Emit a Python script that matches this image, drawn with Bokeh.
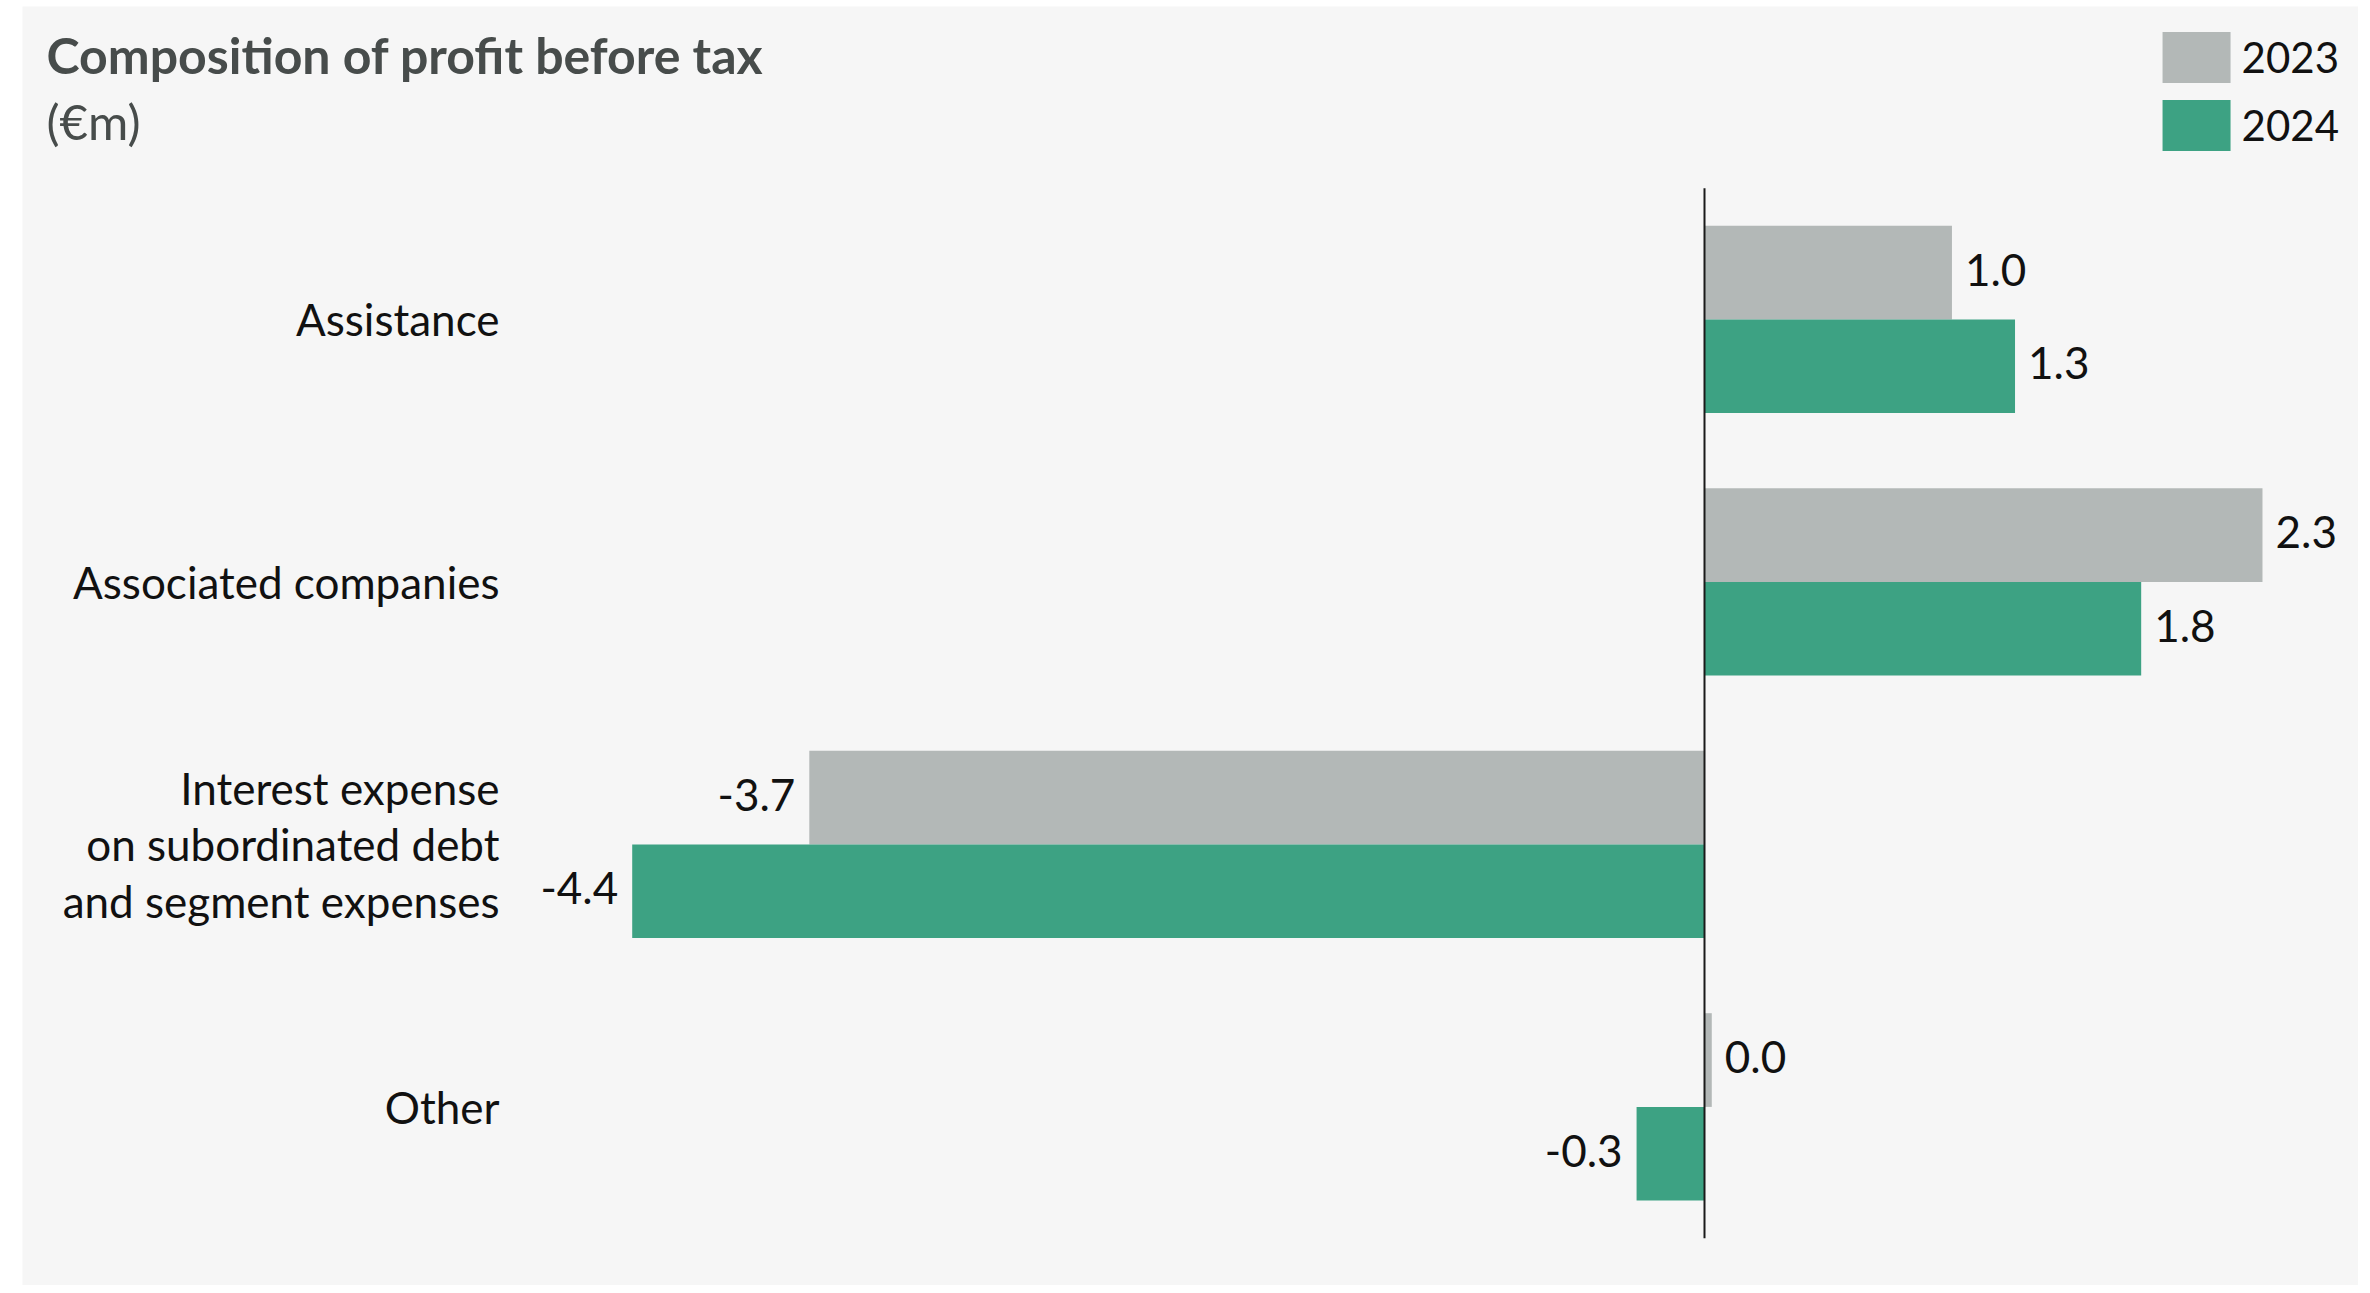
from bokeh.plotting import figure
from bokeh.models import ColumnDataSource, Range1d, Legend, LegendItem
from bokeh.transform import dodge
from bokeh.core.properties import value
from bokeh.embed import file_html
from bokeh.resources import INLINE

# ---------------- data ----------------
categories = ["Assistance", "Associated companies",
              "Interest expense\non subordinated debt\nand segment expenses", "Other"]
years = ["2023", "2024"]
values_2023 = [1.02, 2.30, -3.69, 0.03]
values_2024 = [1.28, 1.80, -4.42, -0.28]
colors = {"2023": "#b3b8b7", "2024": "#3da283"}
title_text = "Composition of profit before tax"
subtitle_text = "(€m)"

FONT = "Lato"

# ---------------- geometry ----------------
W, H = 2358, 1285
frame_left = 22
frame_top = 6
frame_w = W - frame_left
frame_h = H - frame_top
ppu_x = 242.6
zero_px = 1704
x_start = -(zero_px - frame_left) / ppu_x
x_end = x_start + frame_w / ppu_x

ppu_y = 262.5
first_center_px = 318.9
y_top = -(first_center_px - frame_top) / ppu_y
y_bottom = y_top + frame_h / ppu_y


def X(px):
    return x_start + (px - frame_left) / ppu_x


def Y(px):
    return y_top + (px - frame_top) / ppu_y


p = figure(width=W, height=H, output_backend="svg", toolbar_location=None,
           x_range=Range1d(x_start, x_end), y_range=Range1d(y_bottom, y_top),
           x_axis_location=None, y_axis_location=None)
p.min_border = 0
p.min_border_left = frame_left
p.min_border_top = frame_top
p.border_fill_color = "white"
p.background_fill_color = "#f6f6f6"
p.outline_line_color = None
p.xgrid.visible = False
p.ygrid.visible = False

idx = list(range(len(categories)))
src = ColumnDataSource(dict(y=idx, cat=categories, v23=values_2023, v24=values_2024))

bar_h = 0.357
off = bar_h / 2
r23 = p.hbar(y=dodge("y", -off), left=0, right="v23", height=bar_h, source=src,
             fill_color=colors["2023"], line_color=None)
r24 = p.hbar(y=dodge("y", off), left=0, right="v24", height=bar_h, source=src,
             fill_color=colors["2024"], line_color=None)

# zero line
p.segment(x0=0, x1=0, y0=-0.5, y1=len(categories) - 0.5, line_color="#1a1a1a", line_width=2)

# value labels
def label_sources():
    pos = dict(x=[], y=[], t=[])
    neg = dict(x=[], y=[], t=[])
    for vals, shift in ((values_2023, -off), (values_2024, off)):
        for i, v in enumerate(vals):
            d = pos if v >= 0 else neg
            d["x"].append(v)
            d["y"].append(i + shift)
            d["t"].append(f"{v:.1f}")
    return ColumnDataSource(pos), ColumnDataSource(neg)

pos_src, neg_src = label_sources()
common = dict(text_font=value(FONT), text_font_size="44px", text_color="#111111",
              text_baseline="middle", y_offset=-3)
p.text(x="x", y="y", text="t", source=pos_src, text_align="left", x_offset=13, **common)
p.text(x="x", y="y", text="t", source=neg_src, text_align="right", x_offset=-14, **common)

# category labels
cat_src = ColumnDataSource(dict(x=[X(499)] * len(categories), y=idx, t=categories))
p.text(x="x", y="y", text="t", source=cat_src, text_align="right", text_baseline="middle",
       text_font=value(FONT), text_font_size="44px", text_color="#111111",
       text_line_height=1.087)

# title & subtitle
p.text(x=[X(46)], y=[Y(54)], text=[title_text], text_font=value(FONT),
       text_font_size="50px", text_font_style="bold", text_color="#474c4b",
       text_baseline="middle", text_align="left")
p.text(x=[X(46)], y=[Y(120)], text=[subtitle_text], text_font=value(FONT),
       text_font_size="49px", text_color="#474c4b",
       text_baseline="middle", text_align="left")

legend = Legend(items=[LegendItem(label=years[0], renderers=[r23]),
                       LegendItem(label=years[1], renderers=[r24])],
                location="top_right", glyph_width=85, glyph_height=64,
                label_standoff=3, spacing=4, padding=0, margin=19,
                background_fill_alpha=0, border_line_color=None,
                label_text_font=FONT, label_text_font_size="42px",
                label_text_color="#111111")
p.add_layout(legend)

open("out.html", "w").write(file_html(p, INLINE))
